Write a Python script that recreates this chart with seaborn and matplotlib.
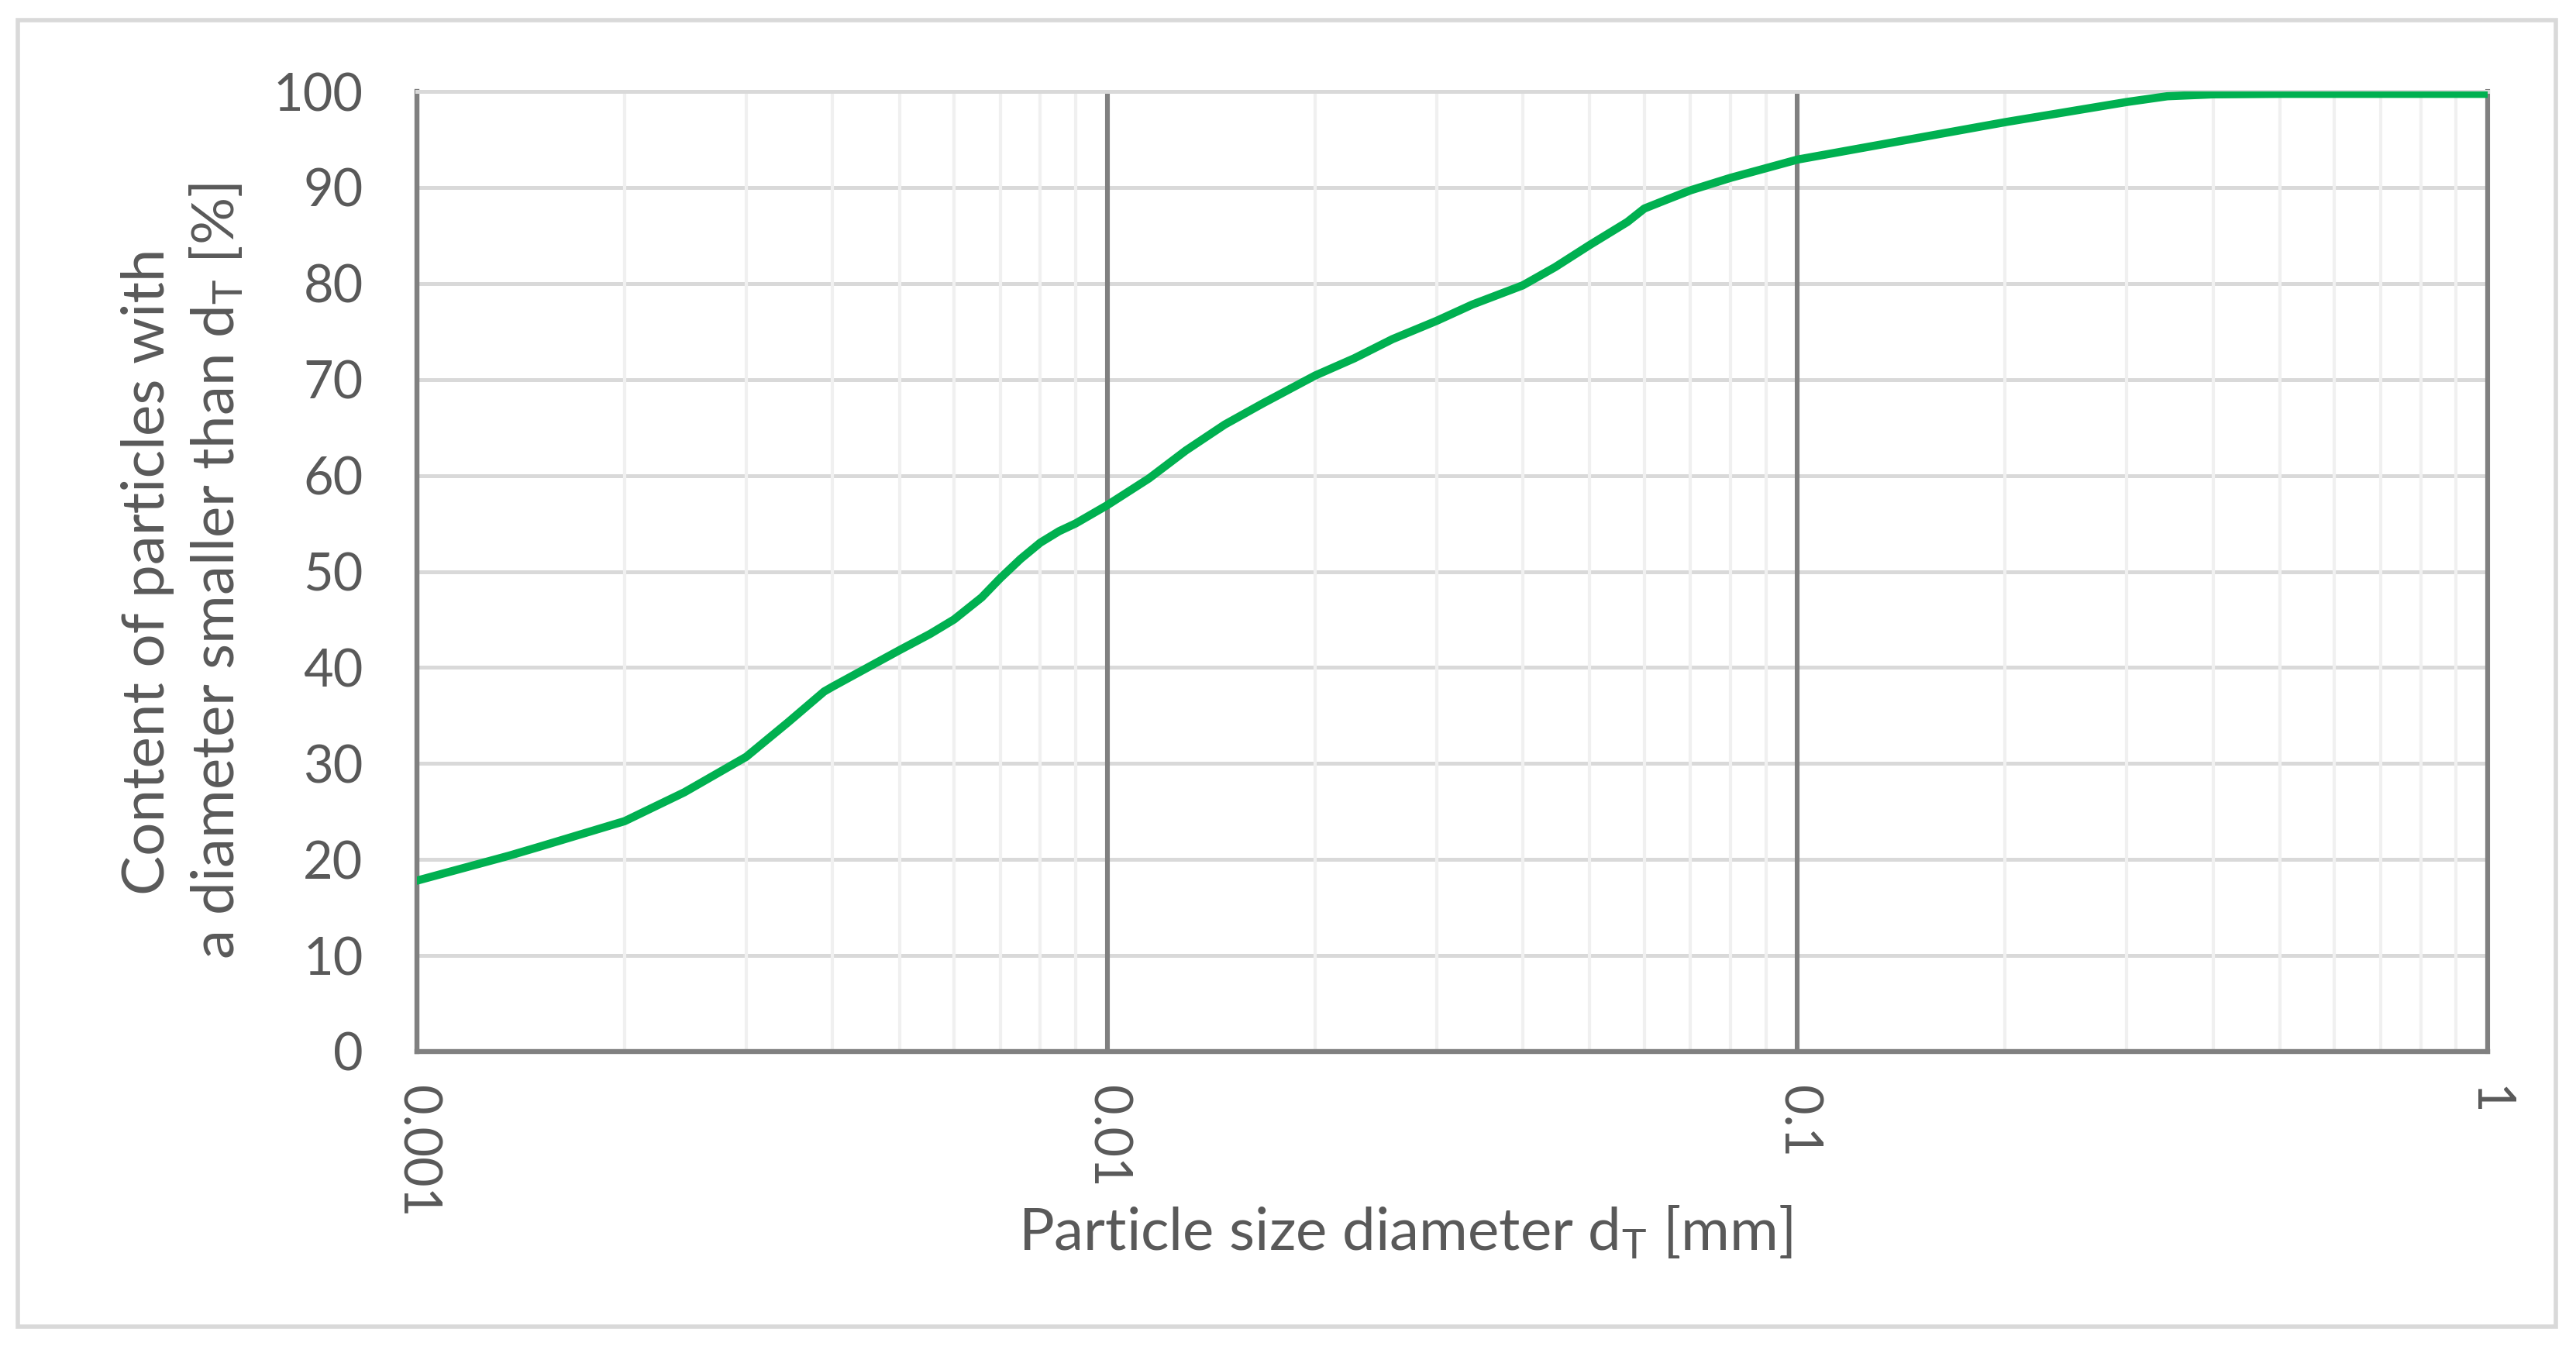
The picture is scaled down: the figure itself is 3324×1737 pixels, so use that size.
import matplotlib
matplotlib.use("Agg")
import numpy as np
import pandas as pd
import seaborn as sns
import matplotlib.pyplot as plt
from matplotlib.ticker import FixedLocator, FixedFormatter, LogLocator, NullFormatter
from matplotlib.patches import Rectangle

# ---- data ----
diameter_mm = [0.001, 0.00136, 0.0015, 0.002, 0.00244, 0.003, 0.00345, 0.00389, 0.004,
               0.00466, 0.005, 0.00554, 0.006, 0.00658, 0.007, 0.00749, 0.008, 0.00852,
               0.009, 0.01, 0.0115, 0.013, 0.0148, 0.0168, 0.02, 0.0228, 0.0259,
               0.03, 0.0338, 0.04, 0.04456, 0.05, 0.0567, 0.06, 0.0645, 0.07, 0.08,
               0.09, 0.1, 0.2, 0.3, 0.3435, 0.4, 0.5, 1.0]
passing_pct = [17.8, 20.4, 21.3, 24.0, 27.0, 30.7, 34.3, 37.5, 38.0,
               40.6, 41.8, 43.5, 45.0, 47.3, 49.3, 51.3, 53.0, 54.2,
               55.0, 56.9, 59.7, 62.6, 65.3, 67.5, 70.4, 72.2, 74.2,
               76.1, 77.8, 79.8, 81.7, 84.0, 86.4, 87.8, 88.7, 89.7, 91.0,
               92.0, 92.9, 96.8, 98.9, 99.5, 99.7, 99.75, 99.75]

x_tick_values = [0.001, 0.01, 0.1, 1]
x_tick_labels = ["0.001", "0.01", "0.1", "1"]
y_tick_values = [0, 10, 20, 30, 40, 50, 60, 70, 80, 90, 100]
y_tick_labels = [str(v) for v in y_tick_values]

x_label = "Particle size diameter d$_\\mathrm{T}$ [mm]"
y_label = "Content of particles with\na diameter smaller than d$_\\mathrm{T}$ [%]"

# ---- style ----
sns.set_theme(style="white")
plt.rcParams['font.family'] = ['Lato', 'DejaVu Sans']
plt.rcParams['mathtext.fontset'] = 'custom'
plt.rcParams['mathtext.rm'] = 'Lato'
plt.rcParams['mathtext.it'] = 'Lato:italic'
plt.rcParams['mathtext.bf'] = 'Lato:bold'

TEXT = "#595959"
W, H, DPI = 3324, 1737, 200
fig = plt.figure(figsize=(W / DPI, H / DPI), dpi=DPI)
fig.patch.set_facecolor("white")

L, R, T, B = 538, 3210, 118, 1357
ax = fig.add_axes([L / W, 1 - B / H, (R - L) / W, (B - T) / H])

df = pd.DataFrame({"d": diameter_mm, "p": passing_pct})
sns.lineplot(data=df, x="d", y="p", ax=ax, color="#00B050", linewidth=3.8,
             solid_capstyle="round", solid_joinstyle="round", zorder=5,
             sort=True, estimator=None)

ax.set_xscale("log")
ax.set_xlim(0.001, 1)
ax.set_ylim(0, 100)

ax.xaxis.set_major_locator(FixedLocator(x_tick_values))
ax.xaxis.set_major_formatter(FixedFormatter(x_tick_labels))
ax.xaxis.set_minor_locator(LogLocator(base=10, subs=np.arange(2, 10)))
ax.xaxis.set_minor_formatter(NullFormatter())
ax.yaxis.set_major_locator(FixedLocator(y_tick_values))
ax.yaxis.set_major_formatter(FixedFormatter(y_tick_labels))

ax.set_axisbelow(True)
ax.yaxis.grid(True, which="major", color="#d9d9d9", linewidth=1.8)
ax.xaxis.grid(True, which="minor", color="#f0f0f0", linewidth=1.5)
ax.xaxis.grid(True, which="major", color="#808080", linewidth=2.2)
ax.yaxis.set_zorder(0.4)
ax.xaxis.set_zorder(0.6)

for side in ["left", "bottom"]:
    ax.spines[side].set_color("#808080")
    ax.spines[side].set_linewidth(2.3)
ax.spines["top"].set_color("#d9d9d9")
ax.spines["top"].set_linewidth(1.8)
ax.spines["right"].set_color("#808080")
ax.spines["right"].set_linewidth(2.2)

ax.tick_params(axis="both", which="both", length=0, colors=TEXT, labelsize=24)
ax.tick_params(axis="x", pad=16)
ax.tick_params(axis="y", pad=25)
for lab in ax.get_xticklabels():
    lab.set_rotation(270)
    lab.set_ha("center")
    lab.set_va("top")

ax.set_xlabel(x_label, fontsize=27.5, color=TEXT)
ax.xaxis.set_label_coords(0.4774, -0.188)
ax.xaxis.label.set_va("center")
ax.set_ylabel(y_label, fontsize=27.5, color=TEXT, linespacing=1.3, ha="center")
ax.yaxis.set_label_coords(-0.113, 0.5)
ax.yaxis.label.set_va("center")

fig.add_artist(Rectangle((23 / W, 1 - 1712 / H), (3298 - 23) / W, (1712 - 26) / H,
                         transform=fig.transFigure, fill=False,
                         edgecolor="#d9d9d9", linewidth=2.0))

fig.savefig("out.png", dpi=DPI, facecolor="white")
